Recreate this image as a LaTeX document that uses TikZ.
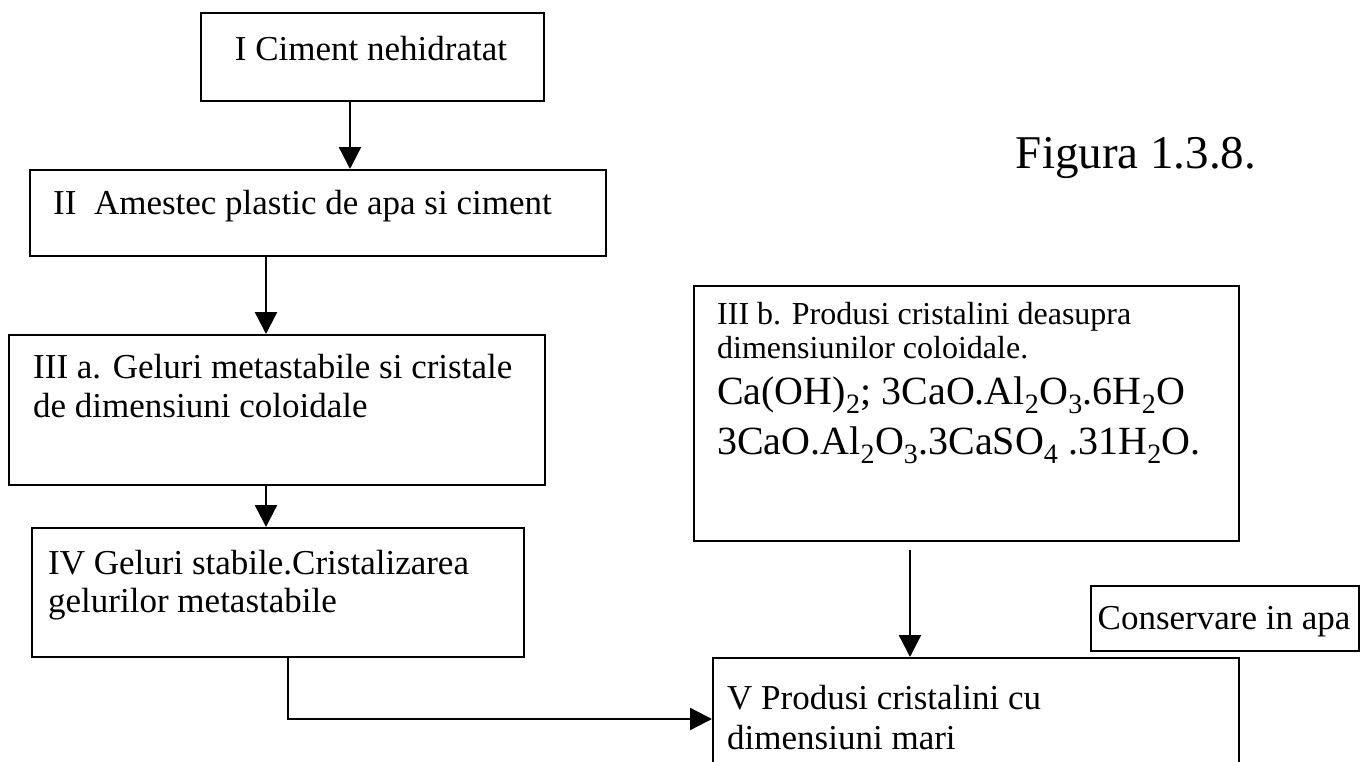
\documentclass[tikz,border=0pt]{standalone}
\usepackage{fontspec}
\setmainfont{Liberation Serif}
\usetikzlibrary{arrows.meta}

\tikzset{
  box/.style={draw, line width=2.3pt, rectangle, inner sep=0pt, anchor=north west},
  txt/.style={anchor=base west, inner sep=0pt, text height=25pt, text depth=7pt, font=\fontsize{35}{39}\selectfont},
  chem/.style={anchor=base west, inner sep=0pt, text height=28pt, text depth=8pt, font=\fontsize{40}{46}\selectfont},
  flow/.style={line width=2.3pt, -{Triangle[length=22pt, width=22pt]}}
}

\begin{document}
\begin{tikzpicture}[x=1pt, y=-1pt]
    \useasboundingbox (0,0) rectangle (1369,761);
    \clip (0,0) rectangle (1369,761);

    % Boxes
    \node[box, minimum width=343pt, minimum height=88pt] (ciment) at (200,12) {};
    \node[box, minimum width=576pt, minimum height=86pt] (amestec) at (29,169) {};
    \node[box, minimum width=536pt, minimum height=150pt] (geluri) at (8,334) {};
    \node[box, minimum width=492pt, minimum height=129pt] (stabile) at (31,527) {};
    \node[box, minimum width=545pt, minimum height=255pt] (deasupra) at (693,285) {};
    \node[box, minimum width=268pt, minimum height=65pt] (conservare) at (1090,585) {};
    \node[box, minimum width=526pt, minimum height=160pt] (produsi) at (712,657) {};

    % Labels
    \node[txt, anchor=base] (t-ciment) at (371,60) {I Ciment nehidratat};
    \node[txt] (t-amestec) at (53,214) {II\ \ Amestec plastic de apa si ciment};
    \node[txt] (t-geluri1) at (33,378) {III a. Geluri metastabile si cristale};
    \node[txt] (t-geluri2) at (33,417) {de dimensiuni coloidale};
    \node[txt] (t-stabile1) at (48,574) {IV Geluri stabile.Cristalizarea};
    \node[txt] (t-stabile2) at (48,612) {gelurilor metastabile};
    \node[txt, font=\fontsize{32}{36}\selectfont, text height=23pt] (t-deasupra1) at (717,324) {III b. Produsi cristalini deasupra};
    \node[txt, font=\fontsize{32}{36}\selectfont, text height=23pt] (t-deasupra2) at (717,358) {dimensiunilor coloidale.};
    \node[chem] (t-chem1) at (717,404) {Ca(OH)\textsubscript{2}; 3CaO.Al\textsubscript{2}O\textsubscript{3}.6H\textsubscript{2}O};
    \node[chem] (t-chem2) at (717,454) {3CaO.Al\textsubscript{2}O\textsubscript{3}.3CaSO\textsubscript{4} .31H\textsubscript{2}O.};
    \node[txt, anchor=base] (t-conservare) at (1224,629) {Conservare in apa};
    \node[txt] (t-produsi1) at (727,709) {V Produsi cristalini cu};
    \node[txt] (t-produsi2) at (727,749) {dimensiuni mari};
    \node[font=\fontsize{47}{51}\selectfont] (figura) at (1136,158) {Figura 1.3.8.};

    % Connectors
    \coordinate (k1) at (350,0);
    \coordinate (k2) at (266,0);
    \coordinate (k3) at (288,719);
    \coordinate (k4) at (910,0);
    \draw[flow] (ciment.south -| k1) -- (amestec.north -| k1);
    \draw[flow] (amestec.south -| k2) -- (geluri.north -| k2);
    \draw[flow] (geluri.south -| k2) -- (stabile.north -| k2);
    \draw[flow] (stabile.south -| k3) |- (produsi.west |- k3);
    \draw[flow, shorten <=8pt] (deasupra.south -| k4) -- (produsi.north -| k4);
\end{tikzpicture}
\end{document}
